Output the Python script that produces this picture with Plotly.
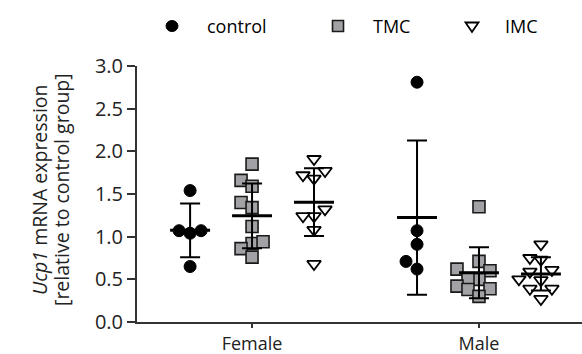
import numpy as np
import plotly.graph_objects as go

# ---------------- data ----------------
sexes = ["Female", "Male"]
groups = ["control", "TMC", "IMC"]

female_control = [1.54, 1.07, 1.04, 1.07, 0.65]
female_tmc = [1.85, 1.66, 1.59, 1.40, 1.34, 1.12, 0.92, 0.94, 0.86, 0.76]
female_imc = [1.91, 1.77, 1.72, 1.68, 1.32, 1.24, 1.24, 1.08, 0.68]

male_control = [2.81, 1.07, 0.91, 0.71, 0.62]
male_tmc = [1.35, 0.71, 0.60, 0.62, 0.50, 0.51, 0.42, 0.39, 0.38, 0.30]
male_imc = [0.91, 0.73, 0.75, 0.61, 0.59, 0.50, 0.49, 0.39, 0.39, 0.27]

y_ticks = [0.0, 0.5, 1.0, 1.5, 2.0, 2.5, 3.0]
y_title_lines = ["<i>Ucp1</i> mRNA expression", "[relative to control group]"]

values = {
    ("Female", "control"): female_control,
    ("Female", "TMC"): female_tmc,
    ("Female", "IMC"): female_imc,
    ("Male", "control"): male_control,
    ("Male", "TMC"): male_tmc,
    ("Male", "IMC"): male_imc,
}

# ---------------- layout constants ----------------
W, H = 582, 354
M_L, M_R, M_T, M_B = 137, 0, 66, 32
X_RANGE = [-0.507, 1.454]
Y_RANGE = [0, 3.0]
plot_w = W - M_L - M_R
plot_h = H - M_T - M_B
px_x = plot_w / (X_RANGE[1] - X_RANGE[0])
px_y = plot_h / (Y_RANGE[1] - Y_RANGE[0])


def paper_x(px):
    return (px - M_L) / plot_w


def paper_y(py):
    return (H - M_B - py) / plot_h


group_offset = {"control": -0.273, "TMC": 0.0, "IMC": 0.273}
mean_half = 0.088

SQ_FILL = "#a2a2a6"
styles = {
    "control": dict(symbol="circle", size=12, color="black",
                    line=dict(color="black", width=1)),
    "TMC": dict(symbol="square", size=12, color=SQ_FILL,
                line=dict(color="#1a1a1a", width=1.6)),
    "IMC": dict(symbol="triangle-down", size=12, color="white",
                line=dict(color="black", width=1.8)),
}


def beeswarm(vals, step=11.0, box=11.0):
    """Return x-offsets (px) for points so that markers don't overlap."""
    order = np.argsort(vals, kind="stable")
    placed = []
    offs = np.zeros(len(vals))
    for i in order:
        yp = vals[i] * px_y
        cands = [0]
        for j in range(1, 10):
            cands += [-j * step, j * step]
        for c in cands:
            ok = all(not (abs(c - dx) < box - 1e-6 and abs(yp - yy) < box)
                     for dx, yy in placed)
            if ok:
                offs[i] = c
                placed.append((c, yp))
                break
    return offs


fig = go.Figure()

# points
for g in groups:
    for si, s in enumerate(sexes):
        v = np.array(values[(s, g)], dtype=float)
        c = si + group_offset[g]
        dx = beeswarm(v) / px_x
        fig.add_trace(go.Scatter(
            x=c + dx, y=v, mode="markers", name=g, showlegend=False,
            marker=styles[g], hoverinfo="y",
        ))

# mean and SD
for g in groups:
    for si, s in enumerate(sexes):
        v = np.array(values[(s, g)], dtype=float)
        c = si + group_offset[g]
        m = v.mean()
        sd = v.std(ddof=1)
        fig.add_trace(go.Scatter(
            x=[c], y=[m], mode="markers", showlegend=False,
            marker=dict(size=1, color="rgba(0,0,0,0)"),
            error_y=dict(type="data", array=[sd], visible=True,
                         color="black", thickness=2, width=10),
            hoverinfo="skip",
        ))
        fig.add_trace(go.Scatter(
            x=[c - mean_half, c + mean_half], y=[m, m], mode="lines",
            showlegend=False, line=dict(color="black", width=3),
            hoverinfo="skip",
        ))

# ---------------- legend (drawn manually) ----------------
LEG_Y = paper_y(26)
legend_marker_px = {"control": 172, "TMC": 338, "IMC": 472}
legend_text_px = {"control": 205, "TMC": 371, "IMC": 503}
shapes = []
annotations = []
for g in groups:
    xa = paper_x(legend_marker_px[g])
    common = dict(xref="paper", yref="paper", xsizemode="pixel",
                  ysizemode="pixel", xanchor=xa, yanchor=LEG_Y)
    if g == "control":
        shapes.append(dict(type="circle", x0=-6, x1=6, y0=-5.5, y1=5.5,
                           fillcolor="black", line=dict(color="black", width=1),
                           **common))
    elif g == "TMC":
        shapes.append(dict(type="rect", x0=-5.5, x1=5.5, y0=-5.5, y1=5.5,
                           fillcolor=SQ_FILL, line=dict(color="#1a1a1a", width=1.6),
                           **common))
    else:
        shapes.append(dict(type="path", path="M-6.5,3.5 L6.5,3.5 L0,-6 Z",
                           fillcolor="white", line=dict(color="black", width=1.8),
                           **common))
    annotations.append(dict(xref="paper", yref="paper", x=paper_x(legend_text_px[g]),
                            y=LEG_Y, xanchor="left", yanchor="middle", text=g,
                            showarrow=False, font=dict(size=18, color="black")))

# y axis title as two lines
for px, line in zip([39, 61], y_title_lines):
    annotations.append(dict(xref="paper", yref="paper", x=paper_x(px),
                            y=paper_y(190), xanchor="center", yanchor="middle",
                            text=line, textangle=-90, showarrow=False,
                            font=dict(size=19.5, color="#222222")))

font_family = "Open Sans, DejaVu Sans, sans-serif"

fig.update_layout(
    width=W, height=H,
    margin=dict(l=M_L, r=M_R, t=M_T, b=M_B, autoexpand=False),
    plot_bgcolor="white", paper_bgcolor="white",
    font=dict(family=font_family, size=15, color="#1a1a1a"),
    showlegend=False,
    shapes=shapes,
    annotations=annotations,
    xaxis=dict(range=X_RANGE, tickmode="array", tickvals=[0, 1],
               ticktext=sexes, showgrid=False, zeroline=False,
               showline=True, linecolor="#333333", linewidth=2,
               ticks="outside", ticklen=4, tickwidth=2, tickcolor="#333333",
               ticklabelstandoff=0,
               tickfont=dict(size=18, color="#222222")),
    yaxis=dict(range=Y_RANGE, tickmode="array", tickvals=y_ticks,
               ticktext=[f"{t:.1f}" for t in y_ticks],
               showgrid=False, zeroline=False,
               showline=True, linecolor="#333333", linewidth=2,
               ticks="outside", ticklen=8, tickwidth=2, tickcolor="#333333",
               tickfont=dict(size=20, color="#222222")),
)

fig.write_html("out.html", config={"displayModeBar": False},
               post_script="document.body.style.margin='0';")
